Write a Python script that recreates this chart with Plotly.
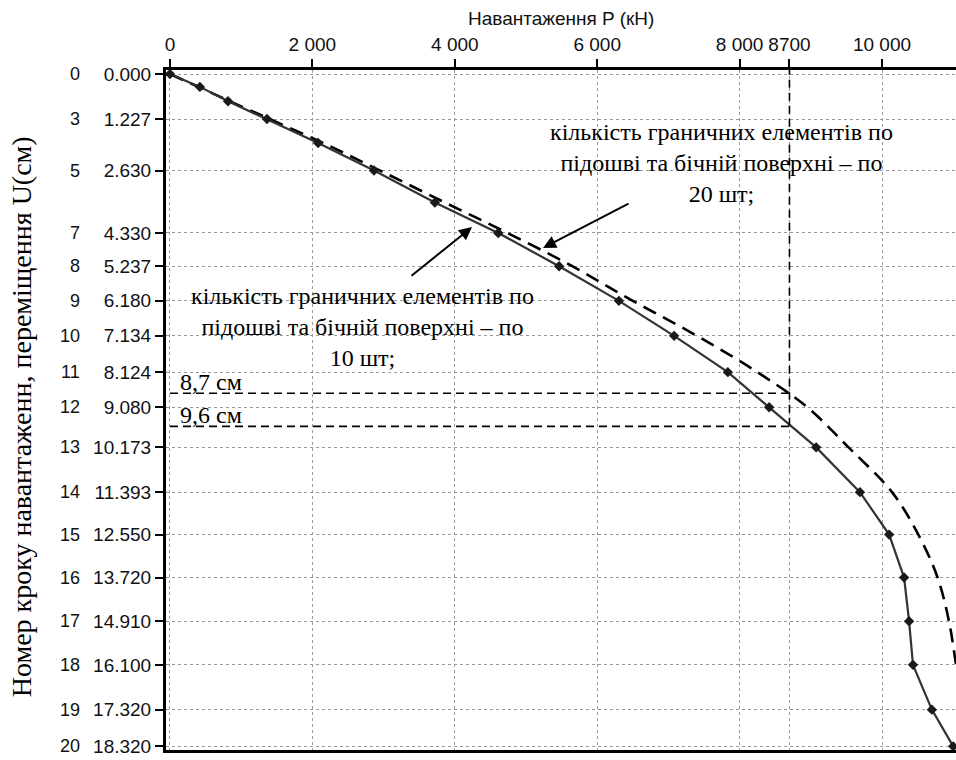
import plotly.graph_objects as go

# ---- data ----
steps_tick = [0, 3, 5, 7, 8, 9, 10, 11, 12, 13, 14, 15, 16, 17, 18, 19, 20]
disp_tick = [0.000, 1.227, 2.630, 4.330, 5.237, 6.180, 7.134, 8.124, 9.080,
             10.173, 11.393, 12.550, 13.720, 14.910, 16.100, 17.320, 18.320]
disp_tick_text = ["0.000", "1.227", "2.630", "4.330", "5.237", "6.180", "7.134",
                  "8.124", "9.080", "10.173", "11.393", "12.550", "13.720",
                  "14.910", "16.100", "17.320", "18.320"]

load_ticks = [0, 2000, 4000, 6000, 8000, 8700, 10000]
load_tick_text = ["0", "2 000", "4 000", "6 000", "8 000", "8700", "10 000"]

# 10 boundary elements (solid line with markers)
u10 = [0, 0.35, 0.74, 1.227, 1.88, 2.630, 3.5, 4.330, 5.237, 6.180, 7.134, 8.124,
       9.080, 10.173, 11.393, 12.550, 13.720, 14.910, 16.100, 17.320, 18.320]
p10 = [0, 420, 815, 1362, 2080, 2865, 3720, 4610, 5465, 6305, 7080, 7835,
       8415, 9075, 9690, 10100, 10310, 10380, 10435, 10700, 11000]

# 20 boundary elements (dashed line)
u20 = [0, 0.74, 1.227, 1.88, 2.63, 3.5, 4.33, 5.237, 6.18, 7.134, 8.124, 9.08,
       10.173, 11.393, 12.55, 13.72, 14.91, 16.1, 17.32, 18.32]
p20 = [0, 840, 1400, 2150, 2950, 3860, 4740, 5650, 6500, 7400, 8250, 8950,
       9530, 10140, 10510, 10780, 10940, 11040, 11140, 11200]

ref_load = 8700
ref_u20 = 8.7
ref_u10 = 9.6

SANS = "Liberation Sans, Arial, sans-serif"
SERIF = "Liberation Serif, Times New Roman, serif"

fig = go.Figure()

fig.add_trace(go.Scatter(
    x=p20, y=u20, mode="lines", line=dict(color="black", width=2.6, dash="14px,8px", shape="spline"),
    showlegend=False, hoverinfo="skip"))
fig.add_trace(go.Scatter(
    x=p10, y=u10, mode="lines+markers",
    line=dict(color="#333333", width=2.2),
    marker=dict(symbol="diamond", size=8, color="#1a1a1a"),
    showlegend=False, hoverinfo="skip"))

# reference dashed lines
fig.add_shape(type="line", x0=0, x1=ref_load, y0=ref_u20, y1=ref_u20, xref="x", yref="y",
              line=dict(color="black", width=1.6, dash="8px,5px"))
fig.add_shape(type="line", x0=0, x1=ref_load, y0=ref_u10, y1=ref_u10, xref="x", yref="y",
              line=dict(color="black", width=1.6, dash="8px,5px"))
fig.add_shape(type="line", x0=ref_load, x1=ref_load, y0=-0.2, y1=ref_u10, xref="x", yref="y",
              line=dict(color="black", width=1.6, dash="8px,5px"))

# step number labels
for s, u in zip(steps_tick, disp_tick):
    fig.add_annotation(x=-0.106, xref="paper", y=u, yref="y", text=str(s), showarrow=False,
                       xanchor="right", yanchor="middle", font=dict(family=SANS, size=18, color="#111"))

fig.add_annotation(x=112, y=ref_u20, xref="x", yref="y", text="8,7 см", showarrow=False,
                   xanchor="left", yanchor="bottom", yshift=-4, font=dict(family=SERIF, size=24, color="black"))
fig.add_annotation(x=112, y=ref_u10, xref="x", yref="y", text="9,6 см", showarrow=False,
                   xanchor="left", yanchor="bottom", yshift=-4, font=dict(family=SERIF, size=24, color="black"))

# text blocks
fig.add_annotation(x=7739, y=2.43, xref="x", yref="y",
                   text="кількість граничних елементів по<br>підошві та бічній поверхні – по<br>20 шт;",
                   showarrow=False, xanchor="center", yanchor="middle",
                   font=dict(family=SERIF, size=24, color="black"))
fig.add_annotation(x=2697, y=6.9, xref="x", yref="y",
                   text="кількість граничних елементів по<br>підошві та бічній поверхні – по<br>10 шт;",
                   showarrow=False, xanchor="center", yanchor="middle",
                   font=dict(family=SERIF, size=24, color="black"))

# arrows
fig.add_annotation(x=5239, y=4.74, ax=6461, ay=3.51, xref="x", yref="y", axref="x", ayref="y",
                   text="", showarrow=True, arrowhead=2, arrowsize=1.3, arrowwidth=2, arrowcolor="black")
fig.add_annotation(x=4242, y=4.17, ax=3371, ay=5.53, xref="x", yref="y", axref="x", ayref="y",
                   text="", showarrow=True, arrowhead=2, arrowsize=1.3, arrowwidth=2, arrowcolor="black")

# axis titles
fig.add_annotation(x=0.5, y=1 + 52 / 680, xref="paper", yref="paper", text="Навантаження P (кН)",
                   showarrow=False, xanchor="center", yanchor="middle",
                   font=dict(family=SANS, size=19, color="#111"))
fig.add_annotation(x=-0.183, y=0.49, xref="paper", yref="paper",
                   text="Номер кроку навантаженн, переміщення U(см)",
                   showarrow=False, textangle=-90, xanchor="center", yanchor="middle",
                   font=dict(family=SERIF, size=28, color="black"))

fig.update_layout(
    width=956, height=760,
    margin=dict(l=166, r=0, t=70, b=10),
    paper_bgcolor="white", plot_bgcolor="white",
    xaxis=dict(side="top", range=[-56, 11039], tickvals=load_ticks, ticktext=load_tick_text,
               showgrid=True, gridcolor="#9a9a9a", griddash="dot", gridwidth=1,
               showline=True, linecolor="black", linewidth=3, mirror=True,
               ticks="outside", ticklen=8, tickwidth=2, tickcolor="black",
               tickfont=dict(family=SANS, size=19, color="#111"), zeroline=False),
    yaxis=dict(range=[18.42, -0.11], tickvals=disp_tick, ticktext=disp_tick_text,
               showgrid=True, gridcolor="#9a9a9a", griddash="dot", gridwidth=1,
               showline=True, linecolor="black", linewidth=3,
               ticks="outside", ticklen=8, tickwidth=2, tickcolor="black",
               tickfont=dict(family=SANS, size=19, color="#111"), zeroline=False),
)

fig.write_html("out.html", config={"displayModeBar": False},
               post_script="document.body.style.margin='0px';")
